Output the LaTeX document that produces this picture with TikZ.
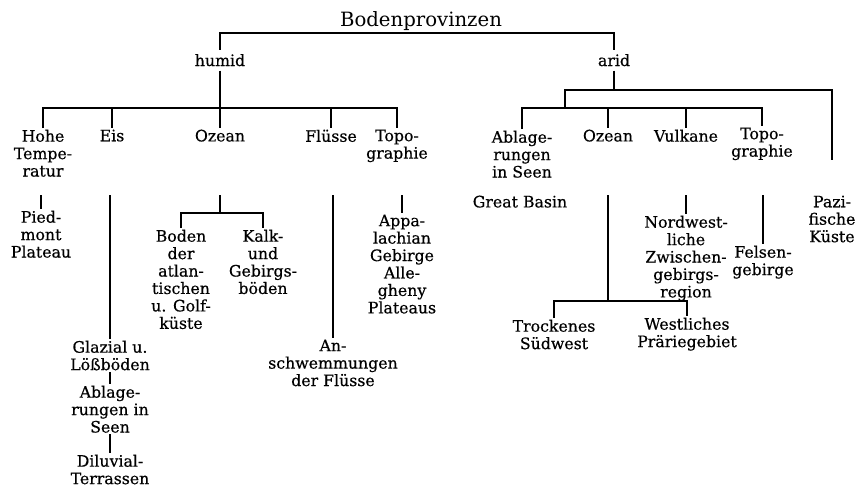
\documentclass[tikz,border=0pt]{standalone}
\usepackage{fontspec}
\setmainfont{DejaVu Serif}
\newfontfamily\lblfont{DejaVu Serif}[FakeBold=0.5]
\usepackage{tikz}

\begin{document}
\begin{tikzpicture}[x=0.25mm, y=-0.25mm,
    lbl/.style={font=\lblfont\fontsize{11.2}{12.4}\selectfont, align=center, inner sep=1pt, anchor=north},
    conn/.style={line width=2.1pt}]
    \useasboundingbox (0,0) rectangle (859,489);

    % Title and the two main groups
    \node[lbl, anchor=base, font=\fontsize{14}{16}\selectfont] (title) at (421,26) {Bodenprovinzen};
    \node[lbl, anchor=base, inner sep=3pt] (humid) at (220,66) {humid};
    \node[lbl, anchor=base, inner sep=3pt] (arid) at (614,66) {arid};
    \coordinate (top) at (421,33);
    \draw[conn] (humid.north) |- (top) -| (arid.north);

    % levels of the bars
    \coordinate (hbar) at (0,108);
    \coordinate (abar1) at (0,90);
    \coordinate (abar2) at (0,108);
    \coordinate (rowb) at (0,195);

    % humid: first level
    \node[lbl] (hohe) at (43,128) {Hohe\\Tempe-\\ratur};
    \node[lbl] (eis) at (112,128) {Eis};
    \node[lbl] (ozh) at (220,128) {Ozean};
    \node[lbl] (flh) at (331,128) {Flüsse};
    \node[lbl] (toph) at (397,128) {Topo-\\graphie};
    \draw[conn] (humid.south) -- (humid.south |- hbar);
    \draw[conn] (hohe.north) |- (toph.north |- hbar) -- (toph.north);
    \foreach \n in {eis,ozh,flh}
        \draw[conn] (\n.north |- hbar) -- (\n.north);

    % humid: second level
    \node[lbl] (pied) at (41,209) {Pied-\\mont\\Plateau};
    \node[lbl] (glaz) at (110,339) {Glazial u.\\Lößböden};
    \node[lbl] (ablh) at (110,384) {Ablage-\\rungen in\\Seen};
    \node[lbl] (dilu) at (110,453) {Diluvial-\\Terrassen};
    \node[lbl] (boden) at (181,228) {Boden\\der\\atlan-\\tischen\\u. Golf-\\küste};
    \node[lbl] (kalk) at (263,228) {Kalk-\\und\\Gebirgs-\\böden};
    \node[lbl] (ansch) at (333,338) {An-\\schwemmungen\\der Flüsse};
    \node[lbl] (appa) at (402,213) {Appa-\\lachian\\Gebirge\\Alle-\\gheny\\Plateaus};

    \draw[conn] (pied.north |- rowb) -- (pied.north);
    \draw[conn] (glaz.north |- rowb) -- (glaz.north);
    \draw[conn] (glaz.south) -- (ablh.north);
    \draw[conn] (ablh.south) -- (dilu.north);
    \coordinate (ozhbar) at (220,213);
    \draw[conn] (ozh.south |- rowb) -- (ozhbar);
    \draw[conn] (boden.north) |- (ozhbar) -| (kalk.north);
    \draw[conn] (ansch.north |- rowb) -- (ansch.north);
    \draw[conn] (appa.north |- rowb) -- (appa.north);

    % arid: first level
    \node[lbl] (abl) at (522,129) {Ablage-\\rungen\\in Seen};
    \node[lbl] (oza) at (608,128) {Ozean};
    \node[lbl] (vulk) at (686,128) {Vulkane};
    \node[lbl] (topa) at (762,126) {Topo-\\graphie};
    \node[lbl] (pazi) at (832,194) {Pazi-\\fische\\Küste};
    \coordinate (ajoin) at (565,108);
    \coordinate (pazend) at (pazi.north |- 0,160);
    \draw[conn] (arid.south) -- (arid.south |- abar1);
    \draw[conn] (ajoin) |- (pazend |- abar1) -- (pazend);
    \draw[conn] (abl.north) |- (topa.north |- abar2) -- (topa.north);
    \foreach \n in {oza,vulk}
        \draw[conn] (\n.north |- abar2) -- (\n.north);

    % arid: second level
    \node[lbl] (great) at (520,194) {Great Basin};
    \node[lbl] (nordw) at (686,214) {Nordwest-\\liche\\Zwischen-\\gebirgs-\\region};
    \node[lbl] (felsen) at (763,244) {Felsen-\\gebirge};
    \node[lbl] (trock) at (554,318) {Trockenes\\Südwest};
    \node[lbl] (westl) at (687,316) {Westliches\\Präriegebiet};

    \coordinate (ozabar) at (oza.south |- 0,301);
    \draw[conn] (oza.south |- rowb) -- (ozabar);
    \draw[conn] (trock.north) |- (ozabar) -| (westl.north);
    \draw[conn] (nordw.north |- rowb) -- (nordw.north);
    \draw[conn] (felsen.north |- rowb) -- (felsen.north);
\end{tikzpicture}
\end{document}
